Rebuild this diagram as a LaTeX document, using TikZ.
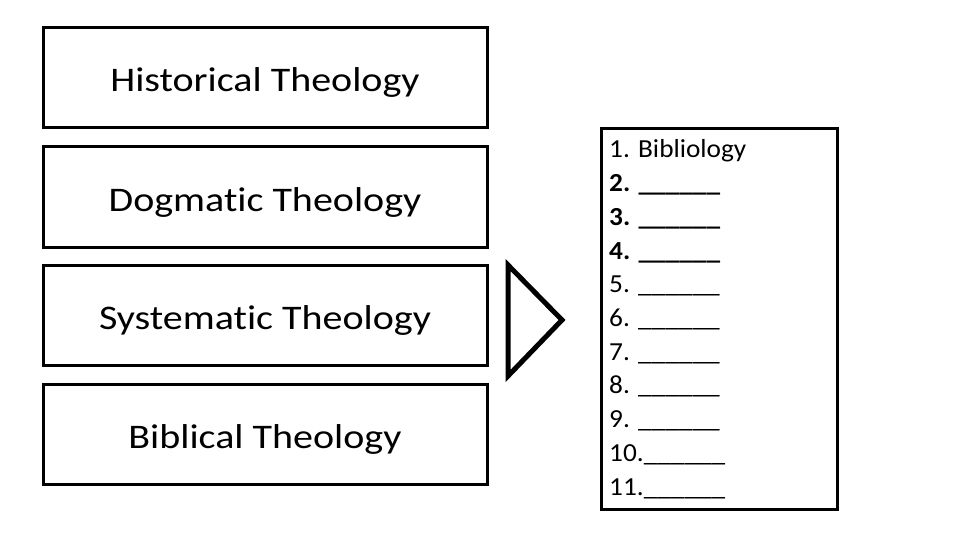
\documentclass[tikz,border=0pt]{standalone}
\usepackage{fontspec}
\setmainfont{Carlito}[FakeStretch=1.16,Ligatures={NoCommon}]
\newfontfamily\listfont{Carlito}[FakeStretch=1.05,Ligatures={NoCommon}]
\begin{document}
\begin{tikzpicture}[x=1pt,y=-1pt,
  theobox/.style={draw=black,line width=3pt,minimum width=444pt,minimum height=100pt,inner sep=0pt},
  theotext/.style={anchor=base,inner sep=0pt,font=\fontsize{34.5}{40}\selectfont},
  listline/.style={anchor=base west,inner sep=0pt,font=\listfont\fontsize{26}{30}\selectfont}]
\useasboundingbox (0,0) rectangle (960,540);
\node[theobox] (hist) at (265,78) {};
\node[theobox] (dogm) at (265,197) {};
\node[theobox] (syst) at (265,315.5) {};
\node[theobox] (bibl) at (265,434.5) {};
\node[theotext] (histt) at (265,92) {Historical Theology};
\node[theotext] (dogmt) at (265,211) {Dogmatic Theology};
\node[theotext] (systt) at (265,329.5) {Systematic Theology};
\node[theotext] (biblt) at (265,448.5) {Biblical Theology};
\draw[line width=5pt,line join=miter] (508,265) -- (562,320) -- (508,376) -- cycle;
\node[draw=black,line width=3pt,minimum width=236pt,minimum height=380pt,inner sep=0pt] (list) at (719,319) {};
\node[listline] (l1) at (609,158) {1. Bibliology};
\node[listline] (l2) at (609,191.7) {\bfseries 2. \_\_\_\_\_\_};
\node[listline] (l3) at (609,225.4) {\bfseries 3. \_\_\_\_\_\_};
\node[listline] (l4) at (609,259.1) {\bfseries 4. \_\_\_\_\_\_};
\node[listline] (l5) at (609,292.8) {5. \_\_\_\_\_\_};
\node[listline] (l6) at (609,326.5) {6. \_\_\_\_\_\_};
\node[listline] (l7) at (609,360.2) {7. \_\_\_\_\_\_};
\node[listline] (l8) at (609,393.9) {8. \_\_\_\_\_\_};
\node[listline] (l9) at (609,427.6) {9. \_\_\_\_\_\_};
\node[listline] (l10) at (609,461.3) {10.\_\_\_\_\_\_};
\node[listline] (l11) at (609,495) {11.\_\_\_\_\_\_};
\end{tikzpicture}
\end{document}
